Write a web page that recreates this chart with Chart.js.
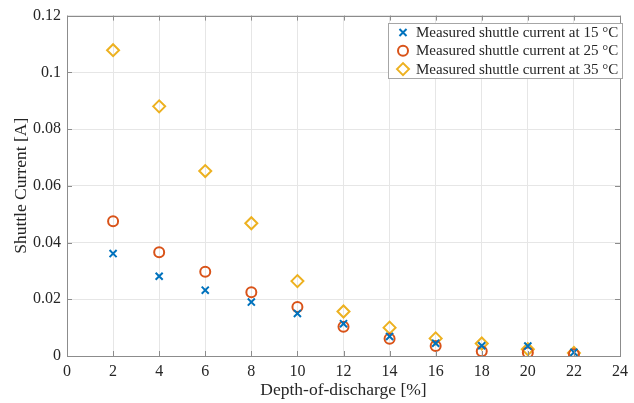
<!DOCTYPE html>
<html>
<head>
<meta charset="utf-8">
<script src="https://cdn.jsdelivr.net/npm/chart.js"></script>
<style>
  body { margin: 0; background: #fff; }
  canvas { display: block; }
</style>
</head>
<body>
<canvas id="grafico" width="634" height="403"></canvas>
<script>
// data
const dod = [2, 4, 6, 8, 10, 12, 14, 16, 18, 20, 22];
const corrente15 = [0.0361, 0.0281, 0.0232, 0.0190, 0.0150, 0.0114, 0.0069, 0.0045, 0.0036, 0.0035, 0.0013];
const corrente25 = [0.0475, 0.0366, 0.0297, 0.0225, 0.0173, 0.0103, 0.0061, 0.0035, 0.0017, 0.0012, 0.0006];
const corrente35 = [0.1078, 0.0880, 0.0652, 0.0468, 0.0264, 0.0157, 0.0100, 0.0062, 0.0044, 0.0024, 0.0011];
const legendas = [
    'Measured shuttle current at 15 °C',
    'Measured shuttle current at 25 °C',
    'Measured shuttle current at 35 °C'
];
const xTicks = [0, 2, 4, 6, 8, 10, 12, 14, 16, 18, 20, 22, 24];
const yTicks = [0, 0.02, 0.04, 0.06, 0.08, 0.1, 0.12];

const fonte = 'Liberation Serif, Times New Roman, serif';
const corTexto = '#262626';

function pontos(ys) {
    return dod.map((x, i) => ({ x: x, y: ys[i] }));
}

// box, inward ticks and legend drawn like matlab
const caixa = {
    id: 'caixa',
    afterDraw(chart) {
        const ctx = chart.ctx;
        const a = chart.chartArea;
        const sx = chart.scales.x, sy = chart.scales.y;
        ctx.save();
        ctx.strokeStyle = '#8c8c8c';
        ctx.lineWidth = 1;
        ctx.strokeRect(Math.round(a.left) + 0.5, Math.round(a.top) + 0.5,
            Math.round(a.right - a.left), Math.round(a.bottom - a.top));
        ctx.beginPath();
        xTicks.forEach(v => {
            const p = Math.round(sx.getPixelForValue(v)) + 0.5;
            ctx.moveTo(p, a.bottom); ctx.lineTo(p, a.bottom - 5);
            ctx.moveTo(p, a.top); ctx.lineTo(p, a.top + 5);
        });
        yTicks.forEach(v => {
            const p = Math.round(sy.getPixelForValue(v)) + 0.5;
            ctx.moveTo(a.left, p); ctx.lineTo(a.left + 5, p);
            ctx.moveTo(a.right, p); ctx.lineTo(a.right - 5, p);
        });
        ctx.stroke();

        // legend
        const lx = 388, ly = 23, lw = 234, lh = 55;
        ctx.fillStyle = '#fff';
        ctx.fillRect(lx, ly, lw, lh);
        ctx.strokeStyle = '#a6a6a6';
        ctx.lineWidth = 1;
        ctx.strokeRect(lx + 0.5, ly + 0.5, lw, lh);
        ctx.font = '15px ' + fonte;
        ctx.textBaseline = 'middle';
        chart.data.datasets.forEach((ds, i) => {
            const cy = ly + 9.5 + i * 18.3;
            ctx.strokeStyle = ds.borderColor;
            ctx.fillStyle = 'rgba(0,0,0,0)';
            ctx.lineWidth = ds.borderWidth;
            Chart.helpers.drawPoint(ctx, {
                pointStyle: ds.pointStyle,
                radius: ds.pointRadius,
                borderWidth: ds.borderWidth,
                rotation: 0
            }, 403, cy);
            ctx.fillStyle = corTexto;
            ctx.fillText(ds.label, 416, cy + 0.5);
        });
        ctx.restore();
    }
};

new Chart(document.getElementById('grafico'), {
    type: 'scatter',
    data: {
        datasets: [{
            label: legendas[0],
            data: pontos(corrente15),
            pointStyle: 'crossRot',
            pointRadius: 5,
            borderWidth: 2,
            borderColor: '#0072BD',
            backgroundColor: 'rgba(0,0,0,0)'
        }, {
            label: legendas[1],
            data: pontos(corrente25),
            pointStyle: 'circle',
            pointRadius: 5,
            borderWidth: 2,
            borderColor: '#D95319',
            backgroundColor: 'rgba(0,0,0,0)'
        }, {
            label: legendas[2],
            data: pontos(corrente35),
            pointStyle: 'rectRot',
            pointRadius: 6,
            borderWidth: 2,
            borderColor: '#EDB120',
            backgroundColor: 'rgba(0,0,0,0)'
        }]
    },
    options: {
        responsive: false,
        animation: false,
        layout: { padding: { top: 15, right: 7, left: 0, bottom: 0 } },
        plugins: {
            legend: { display: false },
            tooltip: { enabled: false }
        },
        scales: {
            x: {
                type: 'linear',
                min: 0,
                max: 24,
                afterFit: s => { s.height = 47; },
                afterBuildTicks: s => { s.ticks = xTicks.map(v => ({ value: v })); },
                grid: { color: '#e6e6e6', drawTicks: false },
                border: { display: false },
                ticks: {
                    color: corTexto,
                    font: { family: fonte, size: 16 },
                    padding: 6,
                    maxRotation: 0
                },
                title: {
                    display: true,
                    text: 'Depth-of-discharge [%]',
                    color: corTexto,
                    font: { family: fonte, size: 17.5 },
                    padding: { top: 0, bottom: 2 }
                }
            },
            y: {
                min: 0,
                max: 0.12,
                afterFit: s => { s.width = 67; },
                afterBuildTicks: s => { s.ticks = yTicks.map(v => ({ value: v })); },
                grid: { color: '#e6e6e6', drawTicks: false },
                border: { display: false },
                ticks: {
                    color: corTexto,
                    font: { family: fonte, size: 16 },
                    padding: 6,
                    callback: v => String(parseFloat(v.toFixed(2)))
                },
                title: {
                    display: true,
                    text: 'Shuttle Current [A]',
                    color: corTexto,
                    font: { family: fonte, size: 17.5 },
                    padding: { top: 11, bottom: 0 }
                }
            }
        }
    },
    plugins: [caixa]
});
</script>
</body>
</html>
